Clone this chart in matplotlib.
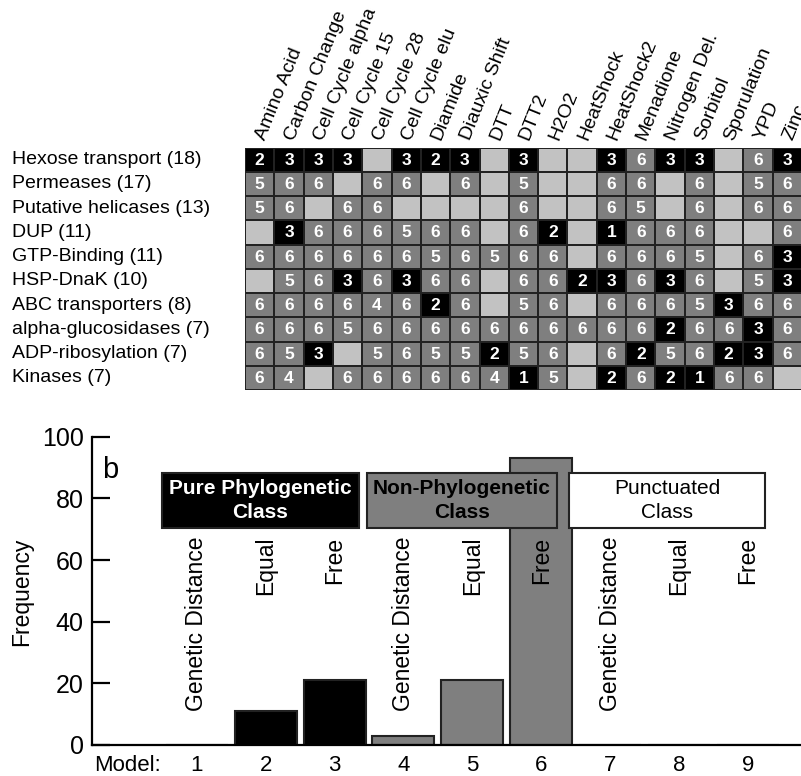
import numpy as np
import matplotlib
matplotlib.use("Agg")
from matplotlib import pyplot as plt
from matplotlib import transforms
from matplotlib.colors import ListedColormap
from matplotlib.patches import Rectangle

plt.rcParams['font.family'] = ['Liberation Sans', 'DejaVu Sans']

conditions = ["Amino Acid", "Carbon Change", "Cell Cycle alpha", "Cell Cycle 15",
              "Cell Cycle 28", "Cell Cycle elu", "Diamide", "Diauxic Shift", "DTT",
              "DTT2", "H2O2", "HeatShock", "HeatShock2", "Menadione", "Nitrogen Del.",
              "Sorbitol", "Sporulation", "YPD", "Zinc"]
families = ["Hexose transport (18)", "Permeases (17)", "Putative helicases (13)",
            "DUP (11)", "GTP-Binding (11)", "HSP-DnaK (10)", "ABC transporters (8)",
            "alpha-glucosidases (7)", "ADP-ribosylation (7)", "Kinases (7)"]
# best model per family / condition, 0 = empty cell
best_model = [
    [2, 3, 3, 3, 0, 3, 2, 3, 0, 3, 0, 0, 3, 6, 3, 3, 0, 6, 3],
    [5, 6, 6, 0, 6, 6, 0, 6, 0, 5, 0, 0, 6, 6, 0, 6, 0, 5, 6],
    [5, 6, 0, 6, 6, 0, 0, 0, 0, 6, 0, 0, 6, 5, 0, 6, 0, 6, 6],
    [0, 3, 6, 6, 6, 5, 6, 6, 0, 6, 2, 0, 1, 6, 6, 6, 0, 0, 6],
    [6, 6, 6, 6, 6, 6, 5, 6, 5, 6, 6, 0, 6, 6, 6, 5, 0, 6, 3],
    [0, 5, 6, 3, 6, 3, 6, 6, 0, 6, 6, 2, 3, 6, 3, 6, 0, 5, 3],
    [6, 6, 6, 6, 4, 6, 2, 6, 0, 5, 6, 0, 6, 6, 6, 5, 3, 6, 6],
    [6, 6, 6, 5, 6, 6, 6, 6, 6, 6, 6, 6, 6, 6, 2, 6, 6, 3, 6],
    [6, 5, 3, 0, 5, 6, 5, 5, 2, 5, 6, 0, 6, 2, 5, 6, 2, 3, 6],
    [6, 4, 0, 6, 6, 6, 6, 6, 4, 1, 5, 0, 2, 6, 2, 1, 6, 6, 0],
]

models = [1, 2, 3, 4, 5, 6, 7, 8, 9]
frequency = [0, 11, 21, 3, 21, 93, 0, 0, 0]
model_names = ["Genetic Distance", "Equal", "Free"] * 3
class_names = ["Pure Phylogenetic\nClass", "Non-Phylogenetic\nClass", "Punctuated\nClass"]


def main():
    fig = plt.figure(figsize=(8.01, 7.76), dpi=100)

    # ---- panel a: grid ----
    ax = fig.add_axes([245 / 801, 386 / 776, 557 / 801, 242.5 / 776])
    vals = np.array(best_model)
    cat = np.where(vals == 0, 0, np.where(vals <= 3, 1, 2))
    cmap = ListedColormap(['#c2c2c2', '#000000', '#7f7f7f'])
    ax.pcolormesh(cat, cmap=cmap, vmin=-0.5, vmax=2.5, edgecolors='#222222', linewidth=1.2)
    ax.set_xlim(0, len(conditions))
    ax.set_ylim(len(families), 0)
    ax.axis('off')
    for i in range(len(families)):
        for j in range(len(conditions)):
            if vals[i, j]:
                ax.text(j + 0.5, i + 0.52, str(vals[i, j]), color='white', fontsize=12.5,
                        fontweight='bold', ha='center', va='center')
    for j, name in enumerate(conditions):
        ax.text(j + 0.8, -0.2, name, rotation=68, rotation_mode='anchor',
                ha='left', va='bottom', fontsize=14, clip_on=False)
    trans = transforms.blended_transform_factory(fig.transFigure, ax.transData)
    for i, name in enumerate(families):
        fig.text(12 / 801, i + 0.5, name, transform=trans, ha='left', va='center', fontsize=14)

    # ---- panel b: bars ----
    bx = fig.add_axes([92 / 801, 31 / 776, 709 / 801, 308.3 / 776])
    colors = ['black'] * 3 + ['#7f7f7f'] * 3 + ['white'] * 3
    bx.bar(models, frequency, width=0.9, color=colors, edgecolor='#222222', linewidth=1.5, zorder=2)
    bx.set_xlim(-0.52, 9.77)
    bx.set_ylim(0, 100)
    for s in ['top', 'right']:
        bx.spines[s].set_visible(False)
    for s in ['left', 'bottom']:
        bx.spines[s].set_linewidth(1.6)
    bx.set_yticks([0, 20, 40, 60, 80, 100])
    bx.tick_params(axis='y', direction='in', length=13, width=1.6, labelsize=18, pad=6)
    bx.set_xticks([0] + models)
    bx.set_xticklabels(["Model:"] + [str(m) for m in models])
    bx.tick_params(axis='x', length=0, labelsize=16, pad=7)

    for m, name in zip(models, model_names):
        bx.text(m, 67.5, name, rotation=90, ha='center', va='top', fontsize=16.5, zorder=3)

    boxes = [(0.49, 3.35, 'black', 'white', 'bold'),
             (3.47, 6.23, '#7f7f7f', 'black', 'bold'),
             (6.41, 9.25, 'white', 'black', 'normal')]
    for (x0, x1, fc, tc, fw), name in zip(boxes, class_names):
        bx.add_patch(Rectangle((x0, 70.4), x1 - x0, 17.8, facecolor=fc,
                               edgecolor='#222222', linewidth=1.5, zorder=4))
        bx.text((x0 + x1) / 2, 79.3, name, color=tc, fontweight=fw, fontsize=15,
                ha='center', va='center', linespacing=1.3, zorder=5)

    bx.text(-0.26, 89.2, "b", fontsize=21, ha='center', va='center')
    fig.text(22 / 801, (776 - 592) / 776, "Frequency", rotation=90, ha='center',
             va='center', fontsize=16.5)

    fig.savefig("out.png", dpi=100)


if __name__ == "__main__":
    main()
